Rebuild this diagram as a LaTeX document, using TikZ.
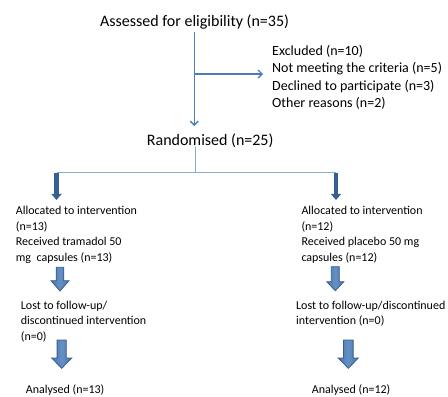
\documentclass[tikz,border=0pt]{standalone}
\usepackage{fontspec}
\setmainfont{Carlito}
\usetikzlibrary{arrows.meta}
\definecolor{lineblue}{RGB}{74,126,187}
\definecolor{lightblue}{RGB}{140,172,212}
\definecolor{darkblue}{RGB}{54,96,146}
\definecolor{fillblue}{RGB}{79,129,189}
\definecolor{edgeblue}{RGB}{56,93,138}
\tikzset{
  txt/.style={anchor=base west, inner sep=0pt, text=black},
  big/.style={txt, font=\fontsize{16}{19}\selectfont},
  mid/.style={txt, font=\fontsize{14}{17}\selectfont},
  sml/.style={txt, font=\fontsize{12}{15}\selectfont},
  conn/.style={draw=lineblue, line width=1.4pt, -{Straight Barb[length=4pt,width=8pt]}},
  thinline/.style={draw=lightblue, line width=1pt},
  darr/.style={draw=darkblue, line width=4.5pt, -{Triangle[length=6pt,width=10pt]}},
  pics/blk/.style args={#1/#2/#3/#4}{code={
    \path[draw=edgeblue, line width=0.8pt, line join=miter,
          left color=fillblue!92!black, right color=fillblue!92!black, middle color=fillblue!88!white]
      (-#1,0) -- (#1,0) -- (#1,#3) -- (#2,#3) -- (0,#4) -- (-#2,#3) -- (-#1,#3) -- cycle;
  }}
}
\begin{document}
\begin{tikzpicture}[x=1pt, y=-1pt]
\useasboundingbox (0,0) rectangle (448,397);

% top
\node[big] (assess) at (100,26) {Assessed for eligibility (n=35)};
\node[mid] (ex1) at (272,55) {Excluded (n=10)};
\node[mid] (ex2) at (272,72.6) {Not meeting the criteria (n=5)};
\node[mid] (ex3) at (272,90.2) {Declined to participate (n=3)};
\node[mid] (ex4) at (272,107.8) {Other reasons (n=2)};
\node[big] (rand) at (146.7,145) {Randomised (n=25)};

% left arm
\node[sml] (a1) at (15.7,214.5) {Allocated to intervention};
\node[sml] (a2) at (15.7,230.1) {(n=13)};
\node[sml] (a3) at (15.7,245.7) {Received tramadol 50};
\node[sml] (a4) at (15.7,261.3) {mg\ \ capsules (n=13)};
\node[sml] (l1) at (20.7,309) {Lost to follow-up/};
\node[sml] (l2) at (20.7,324.7) {discontinued intervention};
\node[sml] (l3) at (20.7,340.4) {(n=0)};
\node[sml] (an1) at (25.7,393.3) {Analysed (n=13)};

% right arm
\node[sml] (b1) at (301.3,214.5) {Allocated to intervention};
\node[sml] (b2) at (301.3,230.1) {(n=12)};
\node[sml] (b3) at (301.3,245.7) {Received placebo 50 mg};
\node[sml] (b4) at (301.3,261.3) {capsules (n=12)};
\node[sml] (m1) at (296,309) {Lost to follow-up/discontinued};
\node[sml] (m2) at (296,324.7) {intervention (n=0)};
\node[sml] (an2) at (311.7,393.3) {Analysed (n=12)};

% thin connectors
\coordinate (vx) at (194.3,0);
\coordinate (br) at (194.3,74);
\draw[conn, shorten <=3pt, shorten >=7pt] (assess.south -| vx) -- (vx |- rand.north);
\draw[conn, shorten >=9pt] (br) -- (br -| ex1.west);

\coordinate (hl) at (195,172.7);
\coordinate (splitL) at (56.5,172.7);
\coordinate (splitR) at (336,172.7);
\draw[thinline] (rand.south -| hl) -- (hl);
\draw[thinline] (splitL) -- (splitR);
\draw[darr, shorten >=6pt] (splitL) -- (splitL |- a1.north);
\draw[darr, shorten >=6pt] (splitR) -- (splitR |- b1.north);

% block arrows
\coordinate (ba1) at (60,267.3);
\coordinate (ba2) at (61.7,340);
\coordinate (bb1) at (335.3,266.7);
\coordinate (bb2) at (348.3,340);
\pic at (ba1) {blk=3.8/9/13.4/23.7};
\pic at (ba2) {blk=4.6/10/18/28.3};
\pic at (bb1) {blk=4/8.5/15/24};
\pic at (bb2) {blk=4.8/10/18/28.3};
\end{tikzpicture}
\end{document}
